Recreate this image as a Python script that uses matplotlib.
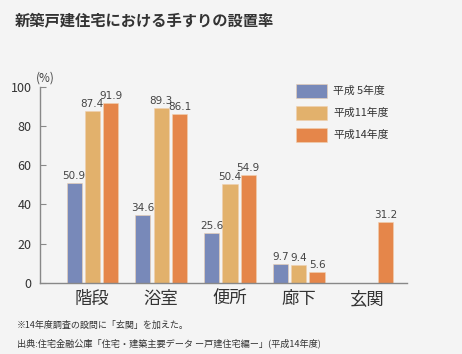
import matplotlib
matplotlib.use("Agg")
import matplotlib.pyplot as plt
import numpy as np

plt.rcParams['font.family'] = ['Noto Sans CJK JP', 'DejaVu Sans']

categories = ['階段', '浴室', '便所', '廊下', '玄関']
series_names = ['平成 5年度', '平成11年度', '平成14年度']
h5 = [50.9, 34.6, 25.6, 9.7, np.nan]
h11 = [87.4, 89.3, 50.4, 9.4, np.nan]
h14 = [91.9, 86.1, 54.9, 5.6, 31.2]
colors = ['#7889b9', '#e2b16c', '#e5864a']

fig = plt.figure(figsize=(4.62, 3.54), dpi=100)
fig.patch.set_facecolor('#f4f4f4')
ax = fig.add_axes([0.0866, 0.2006, 0.794, 0.5544])
ax.set_facecolor('#f4f4f4')

x = np.arange(len(categories))
step = 0.265
width = 0.22
for i, (vals, name, c) in enumerate(zip([h5, h11, h14], series_names, colors)):
    pos = x + (i - 1) * step
    ax.bar(pos, vals, width, color=c, label=name, edgecolor='#f0d0b0', linewidth=0.4)
    for xp, v in zip(pos, vals):
        if not np.isnan(v):
            ax.text(xp, v + 1, f'{v:.1f}', ha='center', va='bottom', fontsize=7.5,
                    color='#444444', family='DejaVu Sans')

ax.set_xlim(-0.76, 4.57)
ax.set_ylim(0, 100)
ax.set_yticks([0, 20, 40, 60, 80, 100])
ax.tick_params(axis='y', direction='in', length=4, color='#888888', labelsize=9,
               labelcolor='#333333', pad=6)
ax.set_xticks(x)
ax.set_xticklabels(categories, fontsize=12.5, color='#333333')
ax.tick_params(axis='x', length=0, pad=5)
for s in ['top', 'right']:
    ax.spines[s].set_visible(False)
for s in ['left', 'bottom']:
    ax.spines[s].set_color('#888888')
    ax.spines[s].set_linewidth(1.0)

ax.text(-0.012, 1.01, '(%)', transform=ax.transAxes, fontsize=8.5, color='#444444',
        ha='left', va='bottom')

leg = ax.legend(loc='upper left', bbox_to_anchor=(0.67, 1.065), frameon=False,
                fontsize=7.8, handlelength=2.9, handleheight=1.6, labelspacing=0.75,
                handletextpad=0.6)
for t in leg.get_texts():
    t.set_color('#333333')

fig.text(0.032, 0.94, '新築戸建住宅における手すりの設置率', fontsize=11,
         fontweight='bold', color='#333333', ha='left', va='center')
fig.text(0.037, 0.082, '※14年度調査の設問に「玄関」を加えた。', fontsize=6.5,
         color='#333333', ha='left', va='center')
fig.text(0.037, 0.031, '出典:住宅金融公庫「住宅・建築主要データ ー戸建住宅編ー」(平成14年度)',
         fontsize=6.6, color='#333333', ha='left', va='center')

fig.savefig('out.png', dpi=100, facecolor=fig.get_facecolor())
